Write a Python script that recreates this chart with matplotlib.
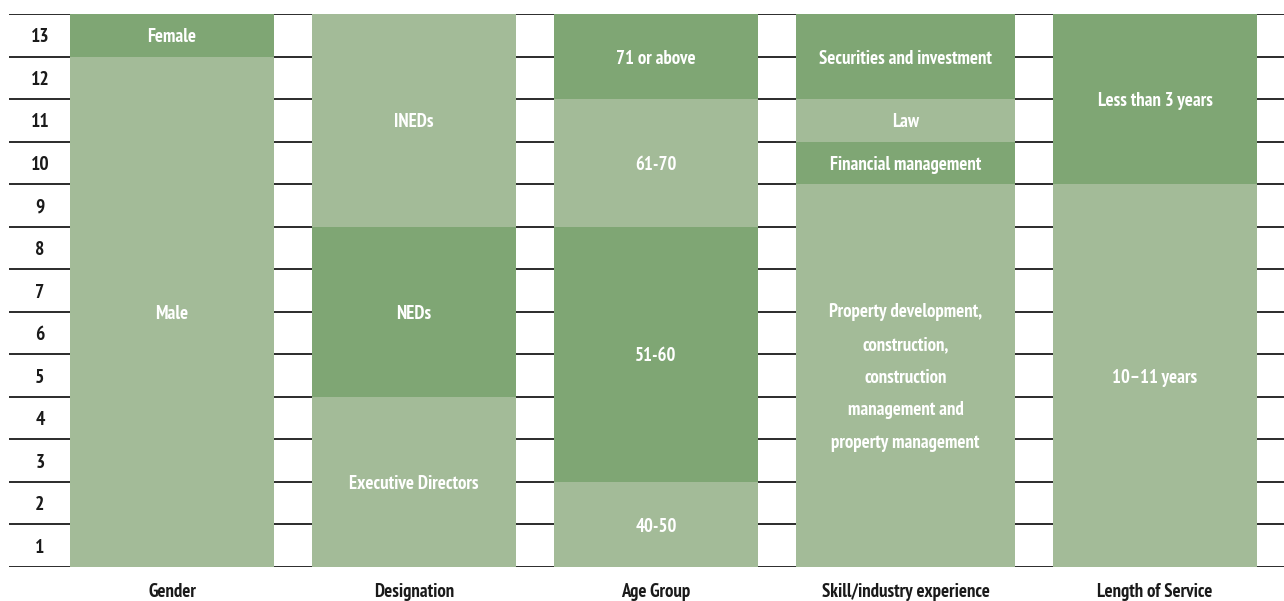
import matplotlib
matplotlib.use("Agg")
import matplotlib.pyplot as plt
from matplotlib import font_manager

# ---- data ----
categories = ["Gender", "Designation", "Age Group", "Skill/industry experience", "Length of Service"]
segment_labels = [
    ["Male", "Female"],
    ["Executive Directors", "NEDs", "INEDs"],
    ["40-50", "51-60", "61-70", "71 or above"],
    ["Property development,\nconstruction,\nconstruction\nmanagement and\nproperty management",
     "Financial management", "Law", "Securities and investment"],
    ["10\u201311 years", "Less than 3 years"],
]
segment_values = [
    [12, 1],
    [4, 4, 5],
    [2, 6, 3, 2],
    [9, 1, 1, 2],
    [9, 4],
]
y_tick_labels = [str(i) for i in range(1, 14)]

# ---- style ----
LIGHT = "#a3bb98"
DARK = "#7fa674"
avail = {f.name for f in font_manager.fontManager.ttflist}
fam = "DejaVu Sans"
for cand in ["PT Sans Narrow", "Roboto Condensed", "Fira Sans Condensed", "Open Sans Condensed",
             "Archivo Narrow", "IBM Plex Sans Condensed", "Liberation Sans Narrow"]:
    if cand in avail:
        fam = cand
        break
plt.rcParams["font.family"] = [fam, "DejaVu Sans"]

W, H = 1284, 601
fig = plt.figure(figsize=(W / 100, H / 100), dpi=100)
ax = fig.add_axes([9 / W, 1 - 567 / H, 1 - 9 / W, (567 - 14) / H])

# layout (pixel-based x coordinates)
lefts = [70, 312, 554, 796, 1053]
widths = [204, 204, 204, 219, 204]
ax.set_xlim(9, 1284)
ax.set_ylim(0, 13)

for k in range(14):
    ax.axhline(k, color="#1a1a1a", lw=1.3, zorder=1)

FS = 13.5
for i, (vals, labs) in enumerate(zip(segment_values, segment_labels)):
    bottom = 0
    for j, (v, lab) in enumerate(zip(vals, labs)):
        col = LIGHT if j % 2 == 0 else DARK
        ax.bar(lefts[i], v, width=widths[i], bottom=bottom, align="edge",
               color=col, edgecolor="none", zorder=2)
        ax.text(lefts[i] + widths[i] / 2, bottom + v / 2 - 0.05, lab, ha="center", va="center",
                color="white", fontsize=FS, fontweight="bold", linespacing=2.05, zorder=3)
        bottom += v
    ax.text(lefts[i] + widths[i] / 2, -0.58, categories[i], ha="center", va="center",
            color="#1a1a1a", fontsize=FS, fontweight="bold", clip_on=False)

for k, lab in enumerate(y_tick_labels):
    ax.text(40, k + 0.5 - 0.05, lab, ha="center", va="center", color="#1a1a1a",
            fontsize=14, fontweight="bold")

ax.set_xticks([])
ax.set_yticks([])
for s in ax.spines.values():
    s.set_visible(False)

fig.savefig("out.png", dpi=100)
